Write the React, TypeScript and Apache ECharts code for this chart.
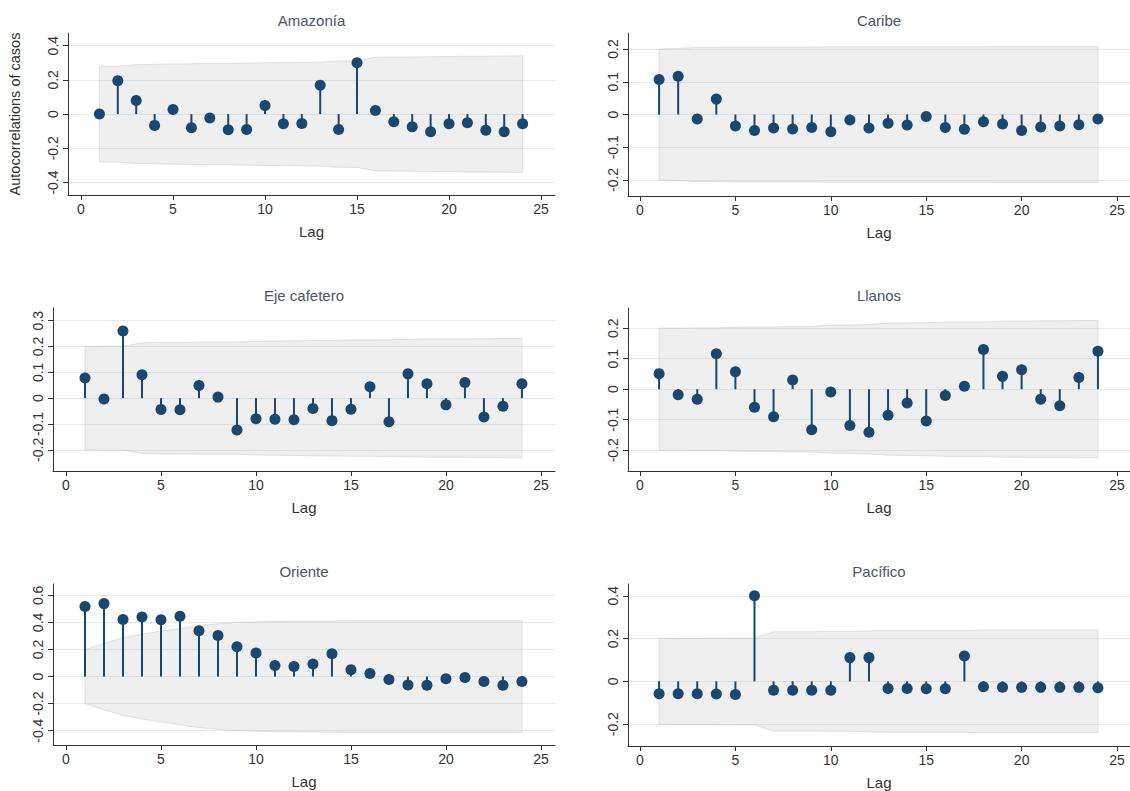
import React, { useEffect, useRef } from 'react';
import * as echarts from 'echarts';

const lags = [1, 2, 3, 4, 5, 6, 7, 8, 9, 10, 11, 12, 13, 14, 15, 16, 17, 18, 19, 20, 21, 22, 23, 24];
const xTicks = [0, 5, 10, 15, 20, 25];

const panelTitles = ['Amazonía', 'Caribe', 'Eje cafetero', 'Llanos', 'Oriente', 'Pacífico'];
const xAxisTitle = 'Lag';
const yAxisTitle = 'Autocorrelations of casos';

// autocorrelations
const acfAmazonia = [0.0, 0.195, 0.08, -0.066, 0.027, -0.08, -0.023, -0.092, -0.09, 0.05, -0.057, -0.055, 0.168, -0.09, 0.3, 0.021, -0.045, -0.074, -0.103, -0.057, -0.051, -0.094, -0.103, -0.057];
const acfCaribe = [0.107, 0.117, -0.014, 0.047, -0.035, -0.049, -0.041, -0.044, -0.04, -0.053, -0.017, -0.041, -0.027, -0.032, -0.006, -0.04, -0.045, -0.022, -0.029, -0.049, -0.038, -0.035, -0.031, -0.014];
const acfEje = [0.078, -0.003, 0.26, 0.091, -0.044, -0.045, 0.049, 0.004, -0.123, -0.08, -0.082, -0.084, -0.04, -0.087, -0.043, 0.044, -0.091, 0.094, 0.056, -0.026, 0.061, -0.073, -0.031, 0.056];
const acfLlanos = [0.051, -0.018, -0.033, 0.116, 0.057, -0.059, -0.09, 0.03, -0.133, -0.009, -0.119, -0.141, -0.085, -0.045, -0.104, -0.021, 0.01, 0.13, 0.042, 0.064, -0.033, -0.054, 0.038, 0.124];
const acfOriente = [0.517, 0.539, 0.422, 0.44, 0.42, 0.445, 0.338, 0.303, 0.221, 0.174, 0.082, 0.075, 0.092, 0.169, 0.05, 0.022, -0.022, -0.062, -0.065, -0.017, -0.007, -0.037, -0.065, -0.037];
const acfPacifico = [-0.058, -0.058, -0.058, -0.059, -0.061, 0.4, -0.041, -0.041, -0.041, -0.042, 0.111, 0.111, -0.033, -0.033, -0.034, -0.034, 0.119, -0.025, -0.027, -0.028, -0.028, -0.028, -0.028, -0.03];

// 95% confidence band half-widths (Bartlett)
const bandAmazonia = [0.28, 0.28, 0.289, 0.291, 0.293, 0.294, 0.296, 0.296, 0.298, 0.3, 0.302, 0.303, 0.304, 0.311, 0.312, 0.332, 0.333, 0.334, 0.335, 0.337, 0.338, 0.338, 0.34, 0.341];
const bandCaribe = [0.2, 0.202, 0.205, 0.205, 0.206, 0.206, 0.206, 0.206, 0.206, 0.207, 0.207, 0.207, 0.207, 0.207, 0.207, 0.207, 0.207, 0.207, 0.208, 0.208, 0.208, 0.208, 0.208, 0.208];
const bandEje = [0.2, 0.201, 0.201, 0.214, 0.216, 0.216, 0.217, 0.217, 0.217, 0.22, 0.221, 0.222, 0.223, 0.224, 0.225, 0.225, 0.226, 0.227, 0.229, 0.229, 0.229, 0.23, 0.231, 0.231];
const bandLlanos = [0.2, 0.2, 0.201, 0.201, 0.203, 0.204, 0.204, 0.206, 0.206, 0.21, 0.21, 0.212, 0.216, 0.217, 0.218, 0.22, 0.22, 0.22, 0.223, 0.223, 0.224, 0.224, 0.225, 0.225];
const bandOriente = [0.2, 0.245, 0.288, 0.313, 0.336, 0.356, 0.378, 0.39, 0.4, 0.405, 0.408, 0.409, 0.41, 0.411, 0.413, 0.413, 0.413, 0.413, 0.413, 0.413, 0.413, 0.413, 0.413, 0.414];
const bandPacifico = [0.2, 0.201, 0.201, 0.202, 0.203, 0.203, 0.232, 0.232, 0.232, 0.233, 0.233, 0.236, 0.238, 0.238, 0.238, 0.238, 0.238, 0.24, 0.24, 0.24, 0.24, 0.24, 0.24, 0.24];

// y tick labels
const yTicksAmazonia = [-0.4, -0.2, 0, 0.2, 0.4];
const yTicksCaribe = [-0.2, -0.1, 0, 0.1, 0.2];
const yTicksEje = [-0.2, -0.1, 0, 0.1, 0.2, 0.3];
const yTicksLlanos = [-0.2, -0.1, 0, 0.1, 0.2];
const yTicksOriente = [-0.4, -0.2, 0, 0.2, 0.4, 0.6];
const yTicksPacifico = [-0.2, 0, 0.2, 0.4];

const acfs = [acfAmazonia, acfCaribe, acfEje, acfLlanos, acfOriente, acfPacifico];
const bands = [bandAmazonia, bandCaribe, bandEje, bandLlanos, bandOriente, bandPacifico];
const yTicks = [yTicksAmazonia, yTicksCaribe, yTicksEje, yTicksLlanos, yTicksOriente, yTicksPacifico];

// layout (pixels) and axis extents
const layout = [
  { left: 68, top: 33, right: 555, bottom: 195, xMin: -0.707, xMax: 25.76, yMin: -0.473, yMax: 0.474 },
  { left: 628, top: 33, right: 1130, bottom: 196, xMin: -0.629, xMax: 25.68, yMin: -0.249, yMax: 0.249 },
  { left: 53, top: 308, right: 555, bottom: 471, xMin: -0.684, xMax: 25.74, yMin: -0.282, yMax: 0.349 },
  { left: 628, top: 308, right: 1130, bottom: 471, xMin: -0.629, xMax: 25.68, yMin: -0.268, yMax: 0.266 },
  { left: 53, top: 584, right: 555, bottom: 745, xMin: -0.684, xMax: 25.74, yMin: -0.506, yMax: 0.684 },
  { left: 628, top: 584, right: 1130, bottom: 746, xMin: -0.629, xMax: 25.68, yMin: -0.302, yMax: 0.455 },
];

const NAVY = '#1a476f';
const FONT = '"Liberation Sans", Arial, "DejaVu Sans", sans-serif';
const fmt = (v: number) => (Math.abs(v) < 1e-9 ? '0' : String(Math.round(v * 10) / 10));

export default function App() {
  const ref = useRef<HTMLDivElement>(null);
  useEffect(() => {
    if (!ref.current) return;
    const chart = echarts.init(ref.current, null, { renderer: 'svg' });
    const grids: any[] = [];
    const xAxes: any[] = [];
    const yAxes: any[] = [];
    const series: any[] = [];
    const graphics: any[] = [];

    layout.forEach((l, i) => {
      grids.push({ left: l.left, top: l.top, width: l.right - l.left, height: l.bottom - l.top, containLabel: false });
      xAxes.push({
        type: 'value', gridIndex: i, min: l.xMin, max: l.xMax,
        axisLine: { show: true, onZero: false, lineStyle: { color: '#333', width: 1 } },
        axisTick: { show: true, customValues: xTicks, length: 5, lineStyle: { color: '#333' } },
        axisLabel: { customValues: xTicks, margin: 7, fontSize: 14, color: '#333', fontFamily: FONT, formatter: (v: number) => String(v) },
        splitLine: { show: false },
      });
      yAxes.push({
        type: 'value', gridIndex: i, min: l.yMin, max: l.yMax,
        axisLine: { show: true, onZero: false, lineStyle: { color: '#333', width: 1 } },
        axisTick: { show: true, customValues: yTicks[i], length: 5, lineStyle: { color: '#333' } },
        axisLabel: { customValues: yTicks[i], rotate: 90, margin: 8, fontSize: 14, color: '#333', fontFamily: FONT, formatter: fmt },
        splitLine: { show: true, lineStyle: { color: '#e2ecf0', width: 1.2 } },
      });
      const band = bands[i];
      series.push({
        type: 'custom', xAxisIndex: i, yAxisIndex: i, silent: true, z: 1,
        data: [[lags[0], 0]],
        renderItem: (_p: any, api: any) => {
          const top = lags.map((lag, j) => api.coord([lag, band[j]]));
          const bot = lags.map((lag, j) => api.coord([lag, -band[j]])).reverse();
          return {
            type: 'polygon',
            shape: { points: top.concat(bot) },
            style: { fill: 'rgba(190,190,190,0.24)', stroke: 'rgba(180,180,180,0.35)', lineWidth: 1 },
          };
        },
      });
      const pts = lags.map((lag, j) => [lag, acfs[i][j]]);
      series.push({
        type: 'custom', xAxisIndex: i, yAxisIndex: i, silent: true, z: 2,
        data: pts,
        renderItem: (_p: any, api: any) => {
          const a = api.coord([api.value(0), 0]);
          const b = api.coord([api.value(0), api.value(1)]);
          return { type: 'line', shape: { x1: a[0], y1: a[1], x2: b[0], y2: b[1] }, style: { stroke: NAVY, lineWidth: 2 } };
        },
      });
      series.push({
        type: 'scatter', xAxisIndex: i, yAxisIndex: i, silent: true, z: 3,
        data: pts, symbol: 'circle', symbolSize: 11,
        itemStyle: { color: NAVY, opacity: 1 },
      });
      const cx = (l.left + l.right) / 2;
      graphics.push({
        type: 'text', x: cx, y: l.top - 13,
        style: { text: panelTitles[i], align: 'center', verticalAlign: 'middle', font: `15px ${FONT}`, fill: '#4a5566' },
      });
      graphics.push({
        type: 'text', x: cx, y: l.bottom + 36,
        style: { text: xAxisTitle, align: 'center', verticalAlign: 'middle', font: `15px ${FONT}`, fill: '#333' },
      });
    });
    graphics.push({
      type: 'text', x: 15, y: (layout[0].top + layout[0].bottom) / 2, rotation: Math.PI / 2,
      style: { text: yAxisTitle, align: 'center', verticalAlign: 'middle', font: `14.5px ${FONT}`, fill: '#333' },
    });

    chart.setOption({
      animation: false,
      backgroundColor: '#ffffff',
      grid: grids,
      xAxis: xAxes,
      yAxis: yAxes,
      series,
      graphic: graphics,
    });
    return () => chart.dispose();
  }, []);
  return <div ref={ref} style={{ position: 'absolute', left: 0, top: 0, width: 1130, height: 791 }} />;
}
